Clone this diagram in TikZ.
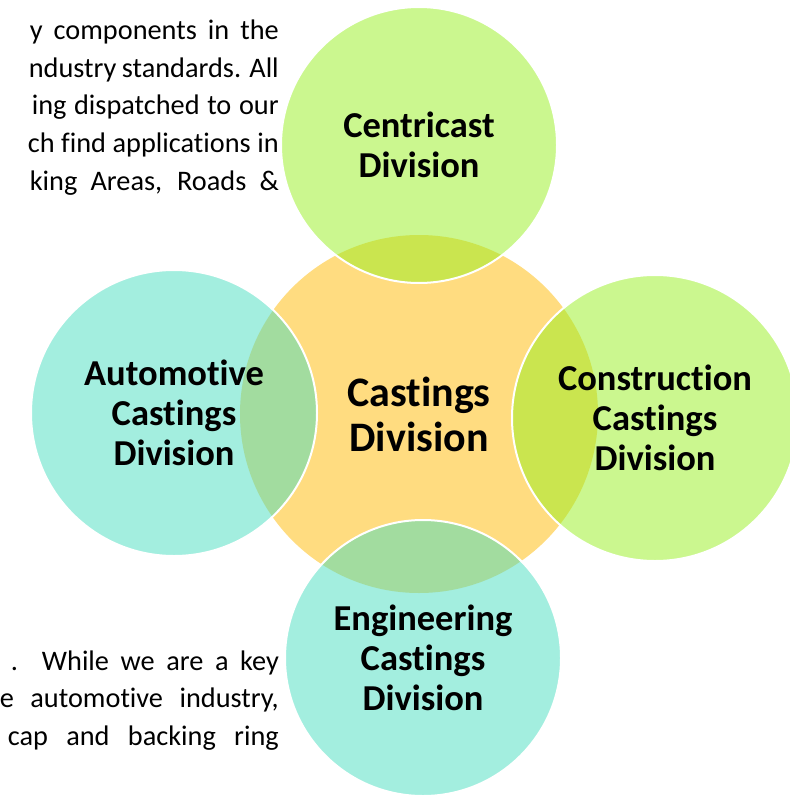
\documentclass[tikz,border=0pt]{standalone}
\usepackage{fontspec}
\setmainfont{Carlito}[Ligatures=NoCommon]
\definecolor{hubyellow}{RGB}{255,220,128}
\definecolor{limegreen}{RGB}{151,239,31}
\definecolor{aquateal}{RGB}{71,221,191}

\begin{document}
\begin{tikzpicture}[
    x=1pt, y=-1pt,
    hub/.style={circle, fill=hubyellow, minimum size=358pt, inner sep=0pt, align=center, font=\fontsize{42}{45}\selectfont\bfseries},
    petal/.style={circle, draw=white, line width=2pt, fill opacity=0.5, text opacity=1, inner sep=0pt, align=center, font=\fontsize{36.5}{40}\selectfont\bfseries},
    para/.style={anchor=base east, inner sep=0pt, font=\fontsize{28.3}{36}\selectfont}
]
\useasboundingbox (0,0) rectangle (789,797);

% Text behind the diagram (top)
\node[para] (top1) at (279,40) {\makebox[249pt][s]{y components in the}};
\node[para] (top2) at (279,77.5) {\makebox[250pt][s]{ndustry standards. All}};
\node[para] (top3) at (279,115) {\makebox[247pt][s]{ing dispatched to our}};
\node[para] (top4) at (279,152.5) {\makebox[251pt][s]{ch find applications in}};
\node[para] (top5) at (279,190) {\makebox[249pt][s]{king Areas, Roads \&}};

% Text behind the diagram (bottom)
\node[para] (bot1) at (279,670) {\makebox[268pt][s]{. While we are a key}};
\node[para] (bot2) at (279,707.5) {\makebox[279pt][s]{e automotive industry,}};
\node[para] (bot3) at (279,745) {\makebox[271pt][s]{cap and backing ring}};

% Center
\node[hub] (castings) at (419,414) {Castings\\Division};

% Satellites
\node[petal, fill=limegreen, minimum size=276pt] (centricast) at (419,145) {Centricast\\Division};
\node[petal, fill=limegreen, minimum size=286pt] (construction) at (655,418) {Construction\\Castings\\Division};
\node[petal, fill=aquateal, minimum size=276pt] (engineering) at (423,658) {Engineering\\Castings\\Division};
\node[petal, fill=aquateal, minimum size=286pt] (automotive) at (174,413) {Automotive\\Castings\\Division};

\end{tikzpicture}
\end{document}
